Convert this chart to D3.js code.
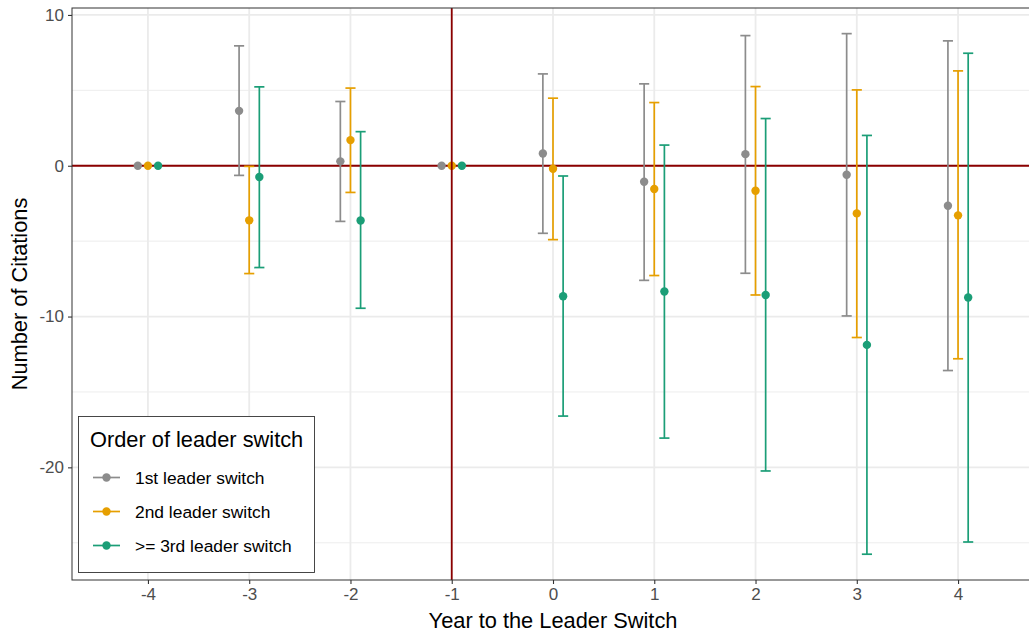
<!DOCTYPE html>
<html>
<head>
<meta charset="utf-8">
<script src="https://cdn.jsdelivr.net/npm/d3@7"></script>
<style>
  body { margin: 0; background: #fff; }
  svg { font-family: "Liberation Sans", Arial, sans-serif; display: block; }
</style>
</head>
<body>
<svg id="chart" width="1029" height="634"></svg>
<script>
// data
const years = [-4, -3, -2, -1, 0, 1, 2, 3, 4];
const seriesNames = ["1st leader switch", "2nd leader switch", ">= 3rd leader switch"];
const seriesColors = ["#8c8c8c", "#E69F00", "#1B9E77"];
const dodge = [-0.1, 0, 0.1];

const est1 = [0, 3.64, 0.29, 0, 0.81, -1.06, 0.77, -0.6, -2.65];
const lo1  = [0, -0.64, -3.69, 0, -4.48, -7.6, -7.13, -9.96, -13.58];
const hi1  = [0, 7.95, 4.26, 0, 6.09, 5.43, 8.63, 8.76, 8.28];

const est2 = [0, -3.62, 1.7, 0, -0.2, -1.54, -1.66, -3.16, -3.29];
const lo2  = [0, -7.15, -1.77, 0, -4.9, -7.28, -8.57, -11.39, -12.8];
const hi2  = [0, -0.04, 5.15, 0, 4.48, 4.19, 5.25, 5.03, 6.29];

const est3 = [0, -0.75, -3.63, 0, -8.65, -8.34, -8.57, -11.88, -8.74];
const lo3  = [0, -6.75, -9.45, 0, -16.6, -18.06, -20.24, -25.76, -24.95];
const hi3  = [0, 5.23, 2.26, 0, -0.68, 1.37, 3.13, 2.01, 7.46];

const yTicks = [-20, -10, 0, 10];
const yMinor = [-25, -15, -5, 5];

const ests = [est1, est2, est3];
const los = [lo1, lo2, lo3];
const his = [hi1, hi2, hi3];

const svg = d3.select("#chart");
const panel = { left: 72, top: 8, right: 1034, bottom: 580 };

const x = d3.scaleLinear().domain([-4.75, 4.75]).range([panel.left, panel.right]);
const y = d3.scaleLinear().domain([-27.47, 10.46]).range([panel.bottom, panel.top]);

// grid
const grid = svg.append("g");
grid.selectAll(".ymin").data(yMinor).join("line")
  .attr("x1", panel.left).attr("x2", panel.right)
  .attr("y1", d => y(d)).attr("y2", d => y(d))
  .attr("stroke", "#ebebeb").attr("stroke-width", 0.9);
grid.selectAll(".ymaj").data(yTicks).join("line")
  .attr("x1", panel.left).attr("x2", panel.right)
  .attr("y1", d => y(d)).attr("y2", d => y(d))
  .attr("stroke", "#ebebeb").attr("stroke-width", 1.8);
grid.selectAll(".xmaj").data(years).join("line")
  .attr("x1", d => x(d)).attr("x2", d => x(d))
  .attr("y1", panel.top).attr("y2", panel.bottom)
  .attr("stroke", "#ebebeb").attr("stroke-width", 1.8);

// zero line
svg.append("line")
  .attr("x1", panel.left).attr("x2", panel.right)
  .attr("y1", y(0)).attr("y2", y(0))
  .attr("stroke", "#8B0000").attr("stroke-width", 1.8);

// error bars and points
seriesNames.forEach((name, si) => {
  const rows = years.map((yr, i) => ({ yr: yr + dodge[si], est: ests[si][i], lo: los[si][i], hi: his[si][i] }));
  const g = svg.append("g").attr("stroke", seriesColors[si]).attr("fill", seriesColors[si]);
  const bars = rows.filter(d => d.hi !== d.lo);
  g.selectAll(".v").data(bars).join("line")
    .attr("x1", d => x(d.yr)).attr("x2", d => x(d.yr))
    .attr("y1", d => y(d.lo)).attr("y2", d => y(d.hi))
    .attr("stroke-width", 1.7);
  g.selectAll(".cl").data(bars).join("line")
    .attr("x1", d => x(d.yr - 0.05)).attr("x2", d => x(d.yr + 0.05))
    .attr("y1", d => y(d.lo)).attr("y2", d => y(d.lo))
    .attr("stroke-width", 1.7);
  g.selectAll(".ch").data(bars).join("line")
    .attr("x1", d => x(d.yr - 0.05)).attr("x2", d => x(d.yr + 0.05))
    .attr("y1", d => y(d.hi)).attr("y2", d => y(d.hi))
    .attr("stroke-width", 1.7);
  g.selectAll("circle").data(rows).join("circle")
    .attr("cx", d => x(d.yr)).attr("cy", d => y(d.est))
    .attr("r", 4.2).attr("stroke", "none");
});

// reference vertical line
svg.append("line")
  .attr("x1", x(-1)).attr("x2", x(-1))
  .attr("y1", panel.top).attr("y2", panel.bottom)
  .attr("stroke", "#8B0000").attr("stroke-width", 1.8);

// panel border
svg.append("rect")
  .attr("x", panel.left).attr("y", panel.top)
  .attr("width", panel.right - panel.left).attr("height", panel.bottom - panel.top)
  .attr("fill", "none").attr("stroke", "#333").attr("stroke-width", 1);

// axes
const fmt = d => String(d);
const xAxis = svg.append("g").attr("transform", `translate(0,${panel.bottom})`)
  .call(d3.axisBottom(x).tickValues(years).tickFormat(fmt).tickSize(4).tickSizeOuter(0).tickPadding(4));
const yAxis = svg.append("g").attr("transform", `translate(${panel.left},0)`)
  .call(d3.axisLeft(y).tickValues(yTicks).tickFormat(fmt).tickSize(4).tickSizeOuter(0).tickPadding(4));
[xAxis, yAxis].forEach(a => {
  a.select(".domain").remove();
  a.selectAll(".tick line").attr("stroke", "#333").attr("stroke-width", 1.1);
  a.selectAll(".tick text").attr("fill", "#4d4d4d")
    .style("font-size", "17px").style("font-family", "Liberation Sans, Arial, sans-serif");
});

svg.append("text")
  .attr("x", (panel.left + panel.right) / 2).attr("y", 628)
  .attr("text-anchor", "middle").attr("font-size", 21.8).attr("fill", "#000")
  .text("Year to the Leader Switch");
svg.append("text")
  .attr("transform", `translate(27,${(panel.top + panel.bottom) / 2}) rotate(-90)`)
  .attr("text-anchor", "middle").attr("font-size", 21.8).attr("fill", "#000")
  .text("Number of Citations");

// legend
const lg = svg.append("g");
lg.append("rect")
  .attr("x", 78.5).attr("y", 416.5).attr("width", 236).attr("height", 156)
  .attr("fill", "#fff").attr("stroke", "#333").attr("stroke-width", 0.9);
lg.append("text").attr("x", 90).attr("y", 447)
  .attr("font-size", 21.8).attr("fill", "#000").text("Order of leader switch");
const rowY = [477.5, 511.5, 545.5];
seriesNames.forEach((name, i) => {
  lg.append("line").attr("x1", 93).attr("x2", 120)
    .attr("y1", rowY[i]).attr("y2", rowY[i])
    .attr("stroke", seriesColors[i]).attr("stroke-width", 1.7);
  lg.append("circle").attr("cx", 106.5).attr("cy", rowY[i]).attr("r", 4.2)
    .attr("fill", seriesColors[i]);
  lg.append("text").attr("x", 135).attr("y", rowY[i] + 6)
    .attr("font-size", 17.4).attr("fill", "#000").text(name);
});
</script>
</body>
</html>
